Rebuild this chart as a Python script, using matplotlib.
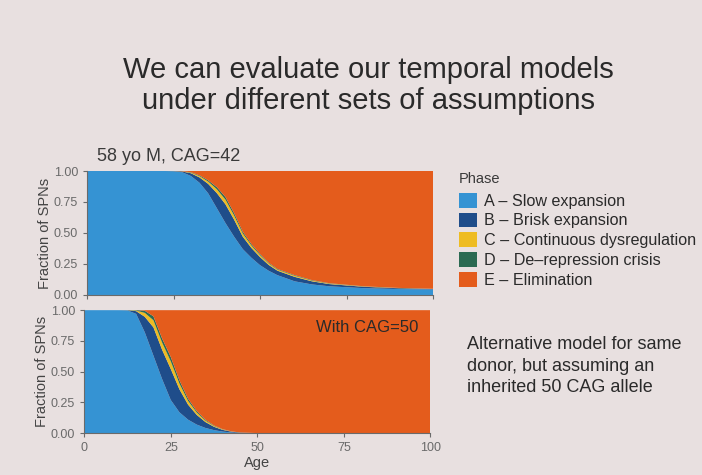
import matplotlib
matplotlib.use("Agg")
import matplotlib.pyplot as plt
from matplotlib.patches import Patch

plt.rcParams['font.family'] = ['Liberation Sans', 'DejaVu Sans']

# Phase labels and colours
phases = ["A \u2013 Slow expansion", "B \u2013 Brisk expansion",
          "C \u2013 Continuous dysregulation", "D \u2013 De\u2013repression crisis",
          "E \u2013 Elimination"]
colors = ["#3593d3", "#1f4d8a", "#eebc22", "#2b6a52", "#e45c1c"]

# Top panel: 58 yo M, CAG=42 (fraction of SPNs per phase)
age_42 = [0, 10, 20, 22.5, 25, 27.5, 30, 32.5, 35, 37.5, 40, 42.5, 45, 47.5,
          50, 52.5, 55, 60, 65, 70, 80, 90, 100]
A_42 = [1, 1, 1, 1, 0.998, 0.99, 0.96, 0.905, 0.82, 0.70, 0.58, 0.47, 0.37, 0.30,
        0.24, 0.195, 0.16, 0.11, 0.085, 0.07, 0.055, 0.048, 0.045]
B_42 = [0, 0, 0, 0, 0.0015, 0.006, 0.022, 0.043, 0.076, 0.122, 0.151, 0.137, 0.10, 0.079,
        0.065, 0.047, 0.036, 0.036, 0.025, 0.018, 0.011, 0.0065, 0.0035]
C_42 = [0, 0, 0, 0, 0.0003, 0.0012, 0.005, 0.011, 0.019, 0.031, 0.038, 0.034, 0.026, 0.02,
        0.016, 0.012, 0.009, 0.009, 0.006, 0.0045, 0.0027, 0.0016, 0.001]
D_42 = [0, 0, 0, 0, 0.0002, 0.0008, 0.003, 0.006, 0.01, 0.017, 0.021, 0.019, 0.014, 0.011,
        0.009, 0.006, 0.005, 0.005, 0.004, 0.0025, 0.0013, 0.0009, 0.0005]
E_42 = [0, 0, 0, 0, 0, 0.002, 0.01, 0.035, 0.075, 0.13, 0.21, 0.34, 0.49, 0.59,
        0.67, 0.74, 0.79, 0.84, 0.88, 0.905, 0.93, 0.943, 0.95]

# Bottom panel: same donor, CAG=50
age_50 = [0, 5, 10, 12.5, 15, 17.5, 20, 22.5, 25, 27.5, 30, 32.5, 35, 37.5,
          40, 42.5, 45, 50, 60, 70, 80, 90, 100]
A_50 = [1, 1, 1, 0.998, 0.97, 0.82, 0.63, 0.44, 0.27, 0.17, 0.11, 0.07, 0.043, 0.025,
        0.013, 0.006, 0.002, 0, 0, 0, 0, 0, 0]
B_50 = [0, 0, 0, 0.0015, 0.022, 0.126, 0.23, 0.238, 0.252, 0.187, 0.122, 0.079, 0.048, 0.027,
        0.014, 0.0065, 0.003, 0.0007, 0, 0, 0, 0, 0]
C_50 = [0, 0, 0, 0.0003, 0.005, 0.032, 0.058, 0.059, 0.063, 0.047, 0.031, 0.02, 0.012, 0.007,
        0.004, 0.0016, 0.0007, 0.0002, 0, 0, 0, 0, 0]
D_50 = [0, 0, 0, 0.0002, 0.003, 0.017, 0.032, 0.033, 0.035, 0.026, 0.017, 0.011, 0.007, 0.004,
        0.002, 0.0009, 0.0003, 0.0001, 0, 0, 0, 0, 0]
E_50 = [0, 0, 0, 0, 0, 0.005, 0.05, 0.23, 0.38, 0.57, 0.72, 0.82, 0.89, 0.937,
        0.967, 0.985, 0.994, 0.999, 1, 1, 1, 1, 1]

yticks = [0, 0.25, 0.5, 0.75, 1.0]
ylabels = ["0.00", "0.25", "0.50", "0.75", "1.00"]
xticks = [0, 25, 50, 75, 100]

bg = "#e8e0e0"
fig = plt.figure(figsize=(7.02, 4.75), dpi=100, facecolor=bg)

# Slide title
fig.text(0.525, 0.852, "We can evaluate our temporal models", ha="center", va="center",
         fontsize=21, color="#2a2a2a")
fig.text(0.525, 0.787, "under different sets of assumptions", ha="center", va="center",
         fontsize=21, color="#2a2a2a")
fig.text(0.138, 0.67, "58 yo M, CAG=42", ha="left", va="center", fontsize=13, color="#3a3a3a")

ax1 = fig.add_axes([0.124, 0.379, 0.493, 0.261])
ax2 = fig.add_axes([0.120, 0.088, 0.493, 0.259])

ax1.stackplot(age_42, A_42, B_42, C_42, D_42, E_42, colors=colors, linewidth=0)
ax2.stackplot(age_50, A_50, B_50, C_50, D_50, E_50, colors=colors, linewidth=0)

for ax in (ax1, ax2):
    ax.set_facecolor(bg)
    ax.set_xlim(0, 100)
    ax.set_ylim(0, 1)
    ax.set_yticks(yticks)
    ax.set_yticklabels(ylabels)
    ax.set_xticks(xticks)
    ax.tick_params(colors="#6a6a6a", labelsize=9, length=3, width=0.8)
    for side in ("top", "right"):
        ax.spines[side].set_visible(False)
    for side in ("left", "bottom"):
        ax.spines[side].set_color("#6a6a6a")
        ax.spines[side].set_linewidth(0.8)
    ax.set_ylabel("Fraction of SPNs", fontsize=10.5, color="#444444", labelpad=1)

ax1.set_xticklabels([])
ax2.set_xlabel("Age", fontsize=10.5, color="#444444", labelpad=1)
ax2.text(96.5, 0.86, "With CAG=50", ha="right", va="center", fontsize=12, color="#2a2a2a")

handles = [Patch(facecolor=c, edgecolor="none") for c in colors]
leg = fig.legend(handles, phases, title="Phase", loc="upper left",
                 bbox_to_anchor=(0.644, 0.652), frameon=False, fontsize=11.6,
                 title_fontsize=10.5, handlelength=1.15, handleheight=1.05,
                 handletextpad=0.4, labelspacing=0.24, borderaxespad=0)
leg._legend_box.align = "left"
leg._legend_box.sep = 5
for t in leg.get_texts():
    t.set_color("#2a2a2a")
leg.get_title().set_color("#3a3a3a")

fig.text(0.665, 0.229, "Alternative model for same\ndonor, but assuming an\ninherited 50 CAG allele",
         ha="left", va="center", fontsize=13, color="#2a2a2a", linespacing=1.35)

fig.savefig("out.png", dpi=100, facecolor=bg)
